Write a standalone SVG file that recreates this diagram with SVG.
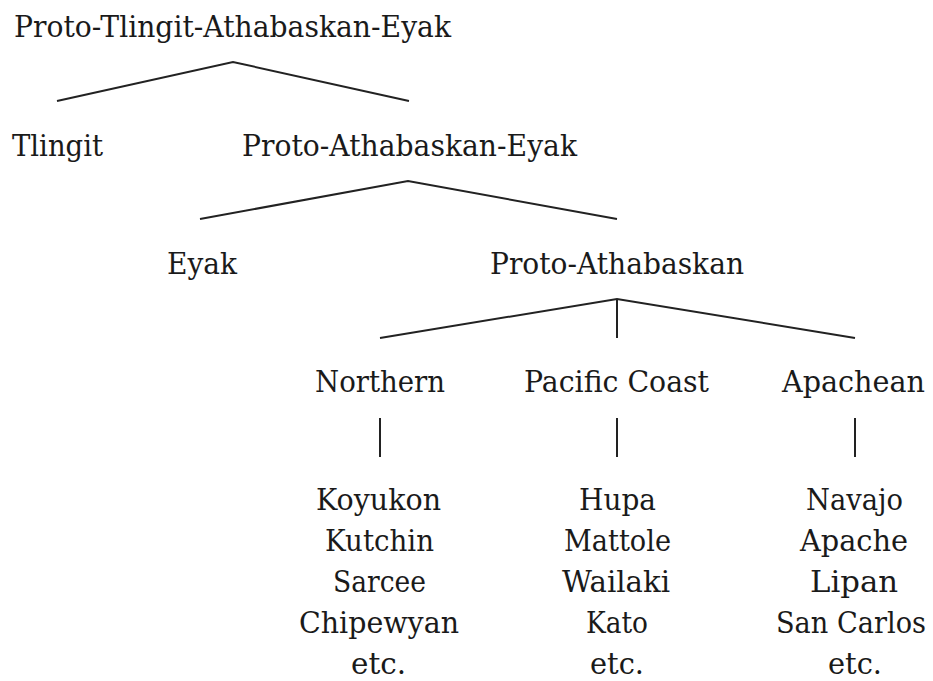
<svg xmlns="http://www.w3.org/2000/svg" width="933" height="681" viewBox="0 0 933 681">
  <style>
    text { font-family: "DejaVu Serif", "Liberation Serif", serif; font-size: 29px; fill: #1a1a1a; }
    .edge { fill: none; stroke: #222; stroke-width: 2; stroke-linejoin: miter; }
  </style>
  <rect width="933" height="681" fill="#ffffff"/>

  <g id="connectors">
    <polyline class="edge" points="57,101 233,62 409,101"/>
    <polyline class="edge" points="200,219 408,181 617,219"/>
    <polyline class="edge" points="380,338 617,299 855,338"/>
    <line class="edge" x1="617" y1="299" x2="617" y2="338"/>
    <line class="edge" x1="380" y1="418" x2="380" y2="457"/>
    <line class="edge" x1="617" y1="418" x2="617" y2="457"/>
    <line class="edge" x1="855" y1="418" x2="855" y2="457"/>
  </g>

  <g id="proto-tlingit-athabaskan-eyak">
    <text x="14" y="37" textLength="437" lengthAdjust="spacingAndGlyphs">Proto-Tlingit-Athabaskan-Eyak</text>
  </g>
  <g id="tlingit">
    <text x="12" y="156" textLength="91" lengthAdjust="spacingAndGlyphs">Tlingit</text>
  </g>
  <g id="proto-athabaskan-eyak">
    <text x="242" y="156" textLength="335" lengthAdjust="spacingAndGlyphs">Proto-Athabaskan-Eyak</text>
  </g>
  <g id="eyak">
    <text x="167" y="274" textLength="70" lengthAdjust="spacingAndGlyphs">Eyak</text>
  </g>
  <g id="proto-athabaskan">
    <text x="490" y="274" textLength="254" lengthAdjust="spacingAndGlyphs">Proto-Athabaskan</text>
  </g>
  <g id="northern">
    <text x="315" y="392" textLength="130" lengthAdjust="spacingAndGlyphs">Northern</text>
  </g>
  <g id="pacific-coast">
    <text x="524" y="392" textLength="185" lengthAdjust="spacingAndGlyphs">Pacific  Coast</text>
  </g>
  <g id="apachean">
    <text x="782" y="392" textLength="143" lengthAdjust="spacingAndGlyphs">Apachean</text>
  </g>

  <g id="northern-languages">
    <text x="316" y="510" textLength="125" lengthAdjust="spacingAndGlyphs">Koyukon</text>
    <text x="325" y="551" textLength="109" lengthAdjust="spacingAndGlyphs">Kutchin</text>
    <text x="333" y="592" textLength="93" lengthAdjust="spacingAndGlyphs">Sarcee</text>
    <text x="299" y="633" textLength="160" lengthAdjust="spacingAndGlyphs">Chipewyan</text>
    <text x="351" y="674" textLength="55" lengthAdjust="spacingAndGlyphs">etc.</text>
  </g>
  <g id="pacific-coast-languages">
    <text x="579" y="510" textLength="77" lengthAdjust="spacingAndGlyphs">Hupa</text>
    <text x="564" y="551" textLength="107" lengthAdjust="spacingAndGlyphs">Mattole</text>
    <text x="562" y="592" textLength="108" lengthAdjust="spacingAndGlyphs">Wailaki</text>
    <text x="586" y="633" textLength="62" lengthAdjust="spacingAndGlyphs">Kato</text>
    <text x="590" y="674" textLength="54" lengthAdjust="spacingAndGlyphs">etc.</text>
  </g>
  <g id="apachean-languages">
    <text x="806" y="510" textLength="97" lengthAdjust="spacingAndGlyphs">Navajo</text>
    <text x="800" y="551" textLength="108" lengthAdjust="spacingAndGlyphs">Apache</text>
    <text x="810" y="592" textLength="88" lengthAdjust="spacingAndGlyphs">Lipan</text>
    <text x="851" y="633" font-size="27" text-anchor="middle" textLength="150" lengthAdjust="spacingAndGlyphs">San Carlos</text>
    <text x="828" y="674" textLength="54" lengthAdjust="spacingAndGlyphs">etc.</text>
  </g>
</svg>
